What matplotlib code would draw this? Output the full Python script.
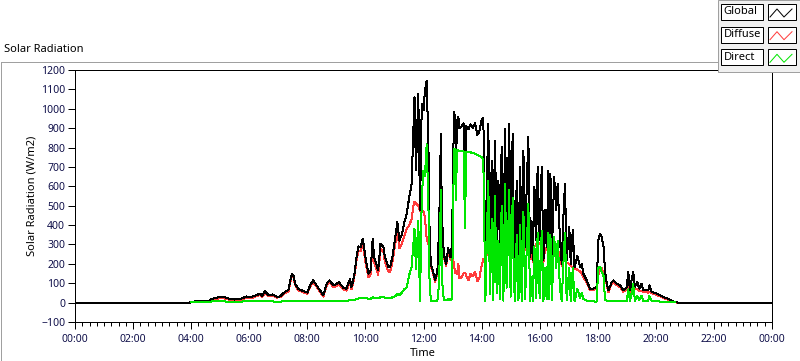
import matplotlib.pyplot as plt
from matplotlib.lines import Line2D
from matplotlib.patches import Rectangle
import numpy as np

# Readings (hour of day, W/m2)
hours = [
    0.0, 3.95, 4.0, 4.3, 4.6, 4.7, 4.85, 5.0, 5.15, 5.3,
    5.5, 5.7, 5.9, 6.05, 6.2, 6.37, 6.45, 6.54, 6.65, 6.8,
    6.95, 7.06, 7.15, 7.23, 7.35, 7.46, 7.52, 7.58, 7.68, 7.85,
    8.0, 8.1, 8.2, 8.32, 8.45, 8.55, 8.67, 8.76, 8.9, 9.0,
    9.08, 9.24, 9.35, 9.47, 9.52, 9.58, 9.64, 9.7, 9.76, 9.84,
    9.91, 10.0, 10.1, 10.18, 10.25, 10.3, 10.37, 10.44, 10.52, 10.62,
    10.67, 10.79, 10.85, 10.93, 11.02, 11.1, 11.17, 11.25, 11.33, 11.42,
    11.51, 11.59, 11.65, 11.69, 11.74, 11.82, 11.88, 11.94, 12.0, 12.05,
    12.11, 12.17, 12.2, 12.25, 12.32, 12.4, 12.48, 12.54, 12.6, 12.63,
    12.7, 12.78, 12.85, 12.93, 12.98, 13.05, 13.1, 13.12, 13.15, 13.2,
    13.24, 13.3, 13.38, 13.43, 13.47, 13.55, 13.62, 13.7, 13.78, 13.85,
    13.92, 14.0, 14.06, 14.13, 14.18, 14.23, 14.29, 14.35, 14.4, 14.46,
    14.52, 14.58, 14.63, 14.69, 14.75, 14.81, 14.86, 14.92, 14.95, 15.0,
    15.07, 15.11, 15.15, 15.21, 15.27, 15.33, 15.38, 15.44, 15.5, 15.55,
    15.61, 15.67, 15.72, 15.76, 15.82, 15.88, 15.93, 16.0, 16.07, 16.13,
    16.19, 16.24, 16.3, 16.33, 16.37, 16.42, 16.5, 16.57, 16.62, 16.7,
    16.76, 16.82, 16.87, 16.93, 17.02, 17.07, 17.14, 17.2, 17.3, 17.39,
    17.45, 17.5, 17.62, 17.73, 17.85, 17.96, 18.02, 18.08, 18.13, 18.2,
    18.25, 18.31, 18.37, 18.48, 18.54, 18.65, 18.77, 18.88, 19.0, 19.05,
    19.11, 19.17, 19.22, 19.28, 19.36, 19.43, 19.51, 19.57, 19.74, 19.78,
    19.86, 20.03, 20.26, 20.49, 20.66, 20.75, 24.0,
]
global_rad = [
    0, 0, 5, 7, 8, 18, 25, 29, 28, 20,
    16, 18, 32, 28, 36, 46, 35, 60, 40, 42,
    30, 32, 45, 55, 65, 146, 140, 98, 72, 60,
    52, 90, 115, 89, 60, 38, 98, 115, 89, 95,
    106, 77, 72, 124, 81, 115, 166, 244, 290, 287,
    330, 235, 150, 165, 330, 235, 200, 166, 304, 287,
    235, 184, 184, 235, 330, 415, 320, 350, 407, 459,
    544, 613, 888, 1060, 682, 1077, 476, 1026, 991, 1094,
    1146, 802, 424, 201, 166, 115, 166, 407, 871, 459,
    250, 200, 280, 235, 300, 985, 940, 690, 930, 960,
    900, 905, 925, 540, 910, 895, 920, 900, 925, 865,
    880, 940, 955, 218, 600, 923, 304, 733, 252, 836,
    321, 630, 286, 802, 235, 897, 356, 700, 923, 321,
    871, 400, 218, 630, 252, 699, 218, 785, 286, 579,
    853, 235, 420, 218, 596, 321, 699, 321, 699, 218,
    476, 286, 680, 300, 665, 252, 647, 476, 613, 321,
    200, 450, 613, 218, 390, 200, 373, 183, 240, 183,
    200, 150, 115, 72, 72, 80, 320, 356, 340, 287,
    166, 98, 63, 106, 115, 98, 89, 63, 80, 158,
    63, 120, 160, 80, 106, 72, 98, 63, 63, 89,
    55, 46, 29, 15, 3, 0, 0,
]
diffuse_rad = [
    0, 0, 2, 3, 3, 12, 18, 23, 22, 15,
    13, 13, 25, 22, 30, 39, 29, 52, 34, 36,
    26, 28, 38, 48, 57, 136, 131, 90, 65, 53,
    46, 82, 105, 81, 53, 31, 89, 105, 80, 86,
    96, 68, 62, 112, 70, 103, 152, 226, 268, 265,
    306, 212, 130, 145, 303, 210, 176, 144, 276, 260,
    209, 160, 160, 208, 298, 370, 280, 300, 340, 380,
    400, 430, 500, 520, 510, 500, 470, 480, 470, 440,
    330, 300, 280, 190, 156, 105, 155, 300, 292, 330,
    235, 188, 262, 222, 280, 190, 150, 160, 145, 200,
    125, 130, 150, 155, 140, 115, 150, 135, 160, 110,
    125, 190, 225, 210, 250, 270, 260, 280, 240, 260,
    270, 290, 270, 280, 225, 260, 280, 300, 310, 290,
    300, 290, 210, 260, 240, 280, 210, 290, 270, 300,
    320, 225, 280, 208, 290, 300, 320, 300, 310, 210,
    280, 270, 300, 280, 290, 240, 290, 280, 270, 250,
    190, 220, 230, 205, 200, 190, 180, 175, 170, 160,
    150, 130, 105, 65, 66, 75, 140, 170, 180, 150,
    150, 88, 55, 97, 106, 90, 80, 55, 72, 90,
    55, 70, 65, 72, 70, 60, 62, 55, 52, 55,
    48, 40, 24, 11, 2, 0, 0,
]
direct_rad = [
    0, 0, 3, 4, 5, 6, 7, 6, 6, 5,
    3, 5, 7, 6, 6, 7, 6, 8, 6, 6,
    4, 4, 7, 7, 8, 10, 9, 8, 7, 7,
    6, 8, 10, 8, 7, 7, 9, 10, 9, 9,
    10, 9, 10, 12, 11, 12, 14, 18, 22, 22,
    24, 23, 20, 20, 27, 25, 24, 22, 28, 27,
    26, 24, 24, 27, 32, 45, 40, 50, 67, 79,
    144, 183, 300, 380, 172, 420, 6, 546, 680, 654,
    816, 502, 144, 11, 10, 10, 11, 107, 579, 129,
    15, 12, 18, 13, 20, 795, 790, 530, 788, 785,
    781, 783, 780, 385, 778, 779, 775, 772, 768, 762,
    758, 750, 735, 8, 330, 630, 44, 430, 12, 550,
    51, 320, 16, 500, 10, 610, 76, 380, 580, 31,
    540, 110, 8, 350, 12, 400, 8, 470, 16, 260,
    510, 10, 130, 10, 290, 21, 360, 21, 370, 8,
    180, 16, 360, 20, 350, 12, 340, 180, 320, 71,
    10, 210, 360, 13, 180, 10, 180, 8, 70, 23,
    50, 20, 10, 7, 6, 5, 180, 186, 160, 137,
    16, 10, 8, 9, 9, 8, 9, 8, 8, 68,
    8, 50, 95, 8, 36, 12, 36, 8, 11, 34,
    7, 6, 5, 4, 1, 0, 0,
]

x_ticks = list(range(0, 25, 2))
x_labels = ['00:00', '02:00', '04:00', '06:00', '08:00', '10:00', '12:00',
            '14:00', '16:00', '18:00', '20:00', '22:00', '00:00']
y_ticks = list(range(-100, 1201, 100))
series_names = ['Global', 'Diffuse', 'Direct']
series_colors = ['#000000', '#ff3c3c', '#00e600']

plt.rcParams['font.family'] = ['Noto Sans', 'DejaVu Sans']
label_color = '#10104a'
px_lw = 0.72  # one pixel at 100 dpi

W, H = 800, 361
fig = plt.figure(figsize=(W / 100, H / 100), dpi=100)
fig.patch.set_facecolor('white')


def fx(px):
    return px / W


def fy(py):
    return 1 - py / H


ax = fig.add_axes([fx(75), fy(322), fx(772) - fx(75), fy(70) - fy(322)])
ax.plot(hours, diffuse_rad, color=series_colors[1], lw=px_lw, zorder=2, antialiased=False)
ax.plot(hours, global_rad, color=series_colors[0], lw=px_lw, zorder=3, antialiased=False)
# direct is only drawn while the sun is up
ax.plot(hours[2:-2], direct_rad[2:-2], color=series_colors[2], lw=px_lw, zorder=4,
        antialiased=False)

ax.set_xlim(0, 24)
ax.set_ylim(-100, 1200)
ax.set_xticks(x_ticks)
ax.set_xticklabels(x_labels)
ax.set_xticks(np.arange(0, 24.01, 0.25), minor=True)
ax.set_yticks(y_ticks)
ax.tick_params(axis='both', which='major', direction='out', length=5, width=px_lw,
               color='black', labelsize=7.5, labelcolor=label_color, pad=2)
ax.tick_params(axis='x', which='major', pad=4)
ax.tick_params(axis='x', which='minor', direction='out', length=3, width=px_lw)
for sp in ax.spines.values():
    sp.set_linewidth(px_lw)
    sp.set_color('black')

fig.text(fx(423), fy(353), 'Time', ha='center', va='center', fontsize=8)
fig.text(fx(32), fy(196), 'Solar Radiation (W/m2)', ha='center', va='center',
         rotation=90, fontsize=8)
fig.text(fx(4), fy(50), 'Solar Radiation', ha='left', va='center', fontsize=8)

# outer frame of the graph control
frame = [
    ([0.5, 717], [61.5, 61.5], '#a0a0a0'),
    ([0.5, 0.5], [61.5, 360], '#a0a0a0'),
    ([0, 800], [360.5, 360.5], '#202020'),
    ([799.5, 799.5], [72, 360.5], '#a0a0a0'),
]
for xs, ys, c in frame:
    fig.add_artist(Line2D([fx(v) for v in xs], [fy(v) for v in ys], color=c, lw=px_lw))

# legend panel
fig.add_artist(Rectangle((fx(717.5), fy(72)), fx(83), 72 / H, transform=fig.transFigure,
                         facecolor='#f0f0f0', edgecolor='#a0a0a0', lw=px_lw))
row_tops = [4, 26.7, 49.3]
for name, color, top in zip(series_names, series_colors, row_tops):
    fig.add_artist(Rectangle((fx(721), fy(top + 16)), fx(42), 16 / H,
                             transform=fig.transFigure, facecolor='white',
                             edgecolor='black', lw=px_lw))
    fig.add_artist(Rectangle((fx(768), fy(top + 16)), fx(28), 16 / H,
                             transform=fig.transFigure, facecolor='white',
                             edgecolor='black', lw=px_lw))
    fig.text(fx(723.5), fy(top + 8), name, ha='left', va='center', fontsize=8)
    fig.add_artist(Line2D([fx(v) for v in (770, 777, 784, 792)],
                          [fy(top + v) for v in (13, 5, 13, 5)],
                          color=color, lw=px_lw))

fig.savefig('out.png', dpi=100)
